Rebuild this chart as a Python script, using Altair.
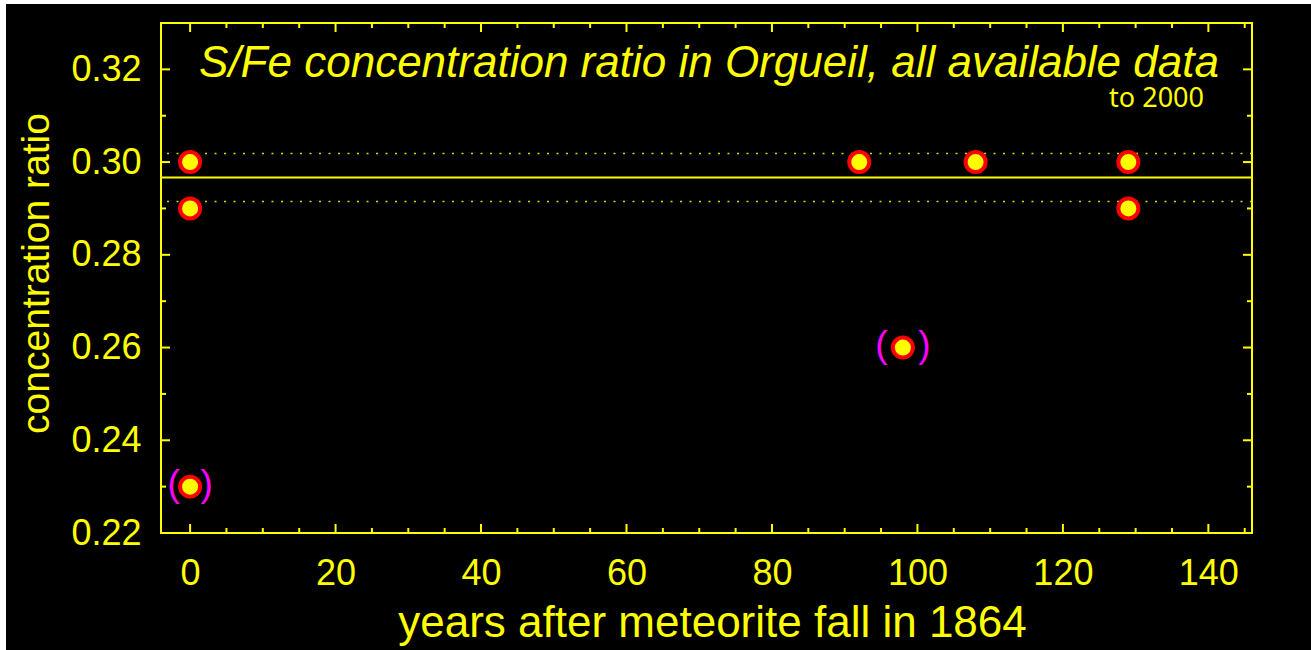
import altair as alt
import numpy as np
import pandas as pd

# S/Fe concentration ratio in the Orgueil meteorite, years after the 1864 fall
years = [0, 0, 92, 108, 129, 129]
ratios = [0.30, 0.29, 0.30, 0.30, 0.30, 0.29]

# doubtful values, drawn in brackets and left out of the mean
bracket_years = [0, 98]
bracket_ratios = [0.23, 0.26]
bracket_text = ["(\u00a0\u00a0)", "(\u00a0\u00a0\u00a0)"]

x_labels = [0, 20, 40, 60, 80, 100, 120, 140]
x_minor = [5, 10, 15, 25, 30, 35, 45, 50, 55, 65, 70, 75, 85, 90, 95,
           105, 110, 115, 125, 130, 135, 145]
y_labels = [0.22, 0.24, 0.26, 0.28, 0.30, 0.32]
y_minor = [0.23, 0.25, 0.27, 0.29, 0.31]

title_text = "S/Fe concentration ratio in Orgueil, all available data"
note_text = "to 2000"
x_title = "years after meteorite fall in 1864"
y_title = "concentration ratio"

W, H = 1091, 510
YELLOW = "#ffff00"

mean = float(np.mean(ratios))
sd = float(np.std(ratios, ddof=1))

xscale = alt.Scale(domain=[-4, 146], nice=False, zero=False)
yscale = alt.Scale(domain=[0.22, 0.33], nice=False, zero=False)
xaxis = alt.Axis(values=x_labels, format="d", title=x_title, ticks=False,
                 domain=False, grid=False, labelPadding=23, zindex=2,
                 titleX=551, titleY=103, titleBaseline="alphabetic",
                 titleAlign="center")
yaxis = alt.Axis(values=y_labels, format=".2f", title=y_title, ticks=False,
                 domain=False, grid=False, labelPadding=20, zindex=2,
                 titleX=-113, titleY=250, titleBaseline="alphabetic",
                 titleAngle=270, titleAlign="center")

X = alt.X("x:Q", scale=xscale, axis=xaxis)
Y = alt.Y("y:Q", scale=yscale, axis=yaxis)

one = pd.DataFrame({"k": [0]})

backdrop = alt.Chart(one).mark_rect(color="#000000").encode(
    x=alt.value(-155), x2=alt.value(1150), y=alt.value(-19), y2=alt.value(627)
)

sd_lines = alt.Chart(pd.DataFrame({"y": [mean + sd, mean - sd]})).mark_rule(
    color=YELLOW, strokeWidth=1.5, strokeDash=[2, 7.5], opacity=0.85
).encode(y=Y)

mean_line = alt.Chart(pd.DataFrame({"y": [mean]})).mark_rule(
    color=YELLOW, strokeWidth=2
).encode(y=Y)


def x_ticks(vals, length):
    d = pd.DataFrame({"x": vals})
    bottom = alt.Chart(d).mark_rule(color=YELLOW, strokeWidth=2).encode(
        x=X, y=alt.value(H), y2=alt.value(H - length))
    top = alt.Chart(d).mark_rule(color=YELLOW, strokeWidth=2).encode(
        x=X, y=alt.value(0), y2=alt.value(length))
    return [bottom, top]


def y_ticks(vals, length):
    d = pd.DataFrame({"y": vals})
    left = alt.Chart(d).mark_rule(color=YELLOW, strokeWidth=2).encode(
        y=Y, x=alt.value(0), x2=alt.value(length))
    right = alt.Chart(d).mark_rule(color=YELLOW, strokeWidth=2).encode(
        y=Y, x=alt.value(W), x2=alt.value(W - length))
    return [left, right]


ticks = (x_ticks(x_labels, 9) + x_ticks(x_minor, 5)
         + y_ticks(y_labels, 9) + y_ticks(y_minor, 5))

frame = alt.Chart(one).mark_rect(
    fillOpacity=0, stroke=YELLOW, strokeWidth=2
).encode(x=alt.value(0), x2=alt.value(W), y=alt.value(0), y2=alt.value(H))

brackets_df = pd.DataFrame({"x": bracket_years, "y": bracket_ratios,
                            "t": bracket_text})
brackets = alt.Chart(brackets_df).mark_text(
    font="Liberation Sans", fontSize=37, color="#ff00ff",
    align="center", baseline="alphabetic", dy=9
).encode(x=X, y=Y, text="t:N")

pts_df = pd.DataFrame({"x": years + bracket_years,
                       "y": ratios + bracket_ratios})
points = alt.Chart(pts_df).mark_circle(
    size=400, fill=YELLOW, stroke="#ff0000", strokeWidth=4, opacity=1
).encode(x=X, y=Y)

title = alt.Chart(pd.DataFrame({"t": [title_text]})).mark_text(
    font="Liberation Sans", fontStyle="italic", fontSize=44, color=YELLOW,
    align="center", baseline="alphabetic"
).encode(x=alt.value(548), y=alt.value(54), text="t:N")

note = alt.Chart(pd.DataFrame({"t": [note_text]})).mark_text(
    font="Noto Sans", fontSize=27, color=YELLOW,
    align="right", baseline="alphabetic"
).encode(x=alt.value(1043), y=alt.value(84), text="t:N")

chart = alt.layer(
    backdrop, sd_lines, mean_line, *ticks, frame, brackets, points, title, note
).properties(
    width=W, height=H,
    autosize=alt.AutoSizeParams(type="none"),
    padding={"left": 161, "top": 23, "right": 59, "bottom": 117},
    background="white",
).configure_view(
    strokeWidth=0
).configure_axis(
    labelColor=YELLOW, titleColor=YELLOW, labelFont="Liberation Sans",
    titleFont="Liberation Sans", labelFontSize=36, titleFontWeight="normal",
).configure_axisX(
    titleFontSize=44
).configure_axisY(
    titleFontSize=39
)

chart.save("out.html", embed_options={"renderer": "svg", "actions": False})
